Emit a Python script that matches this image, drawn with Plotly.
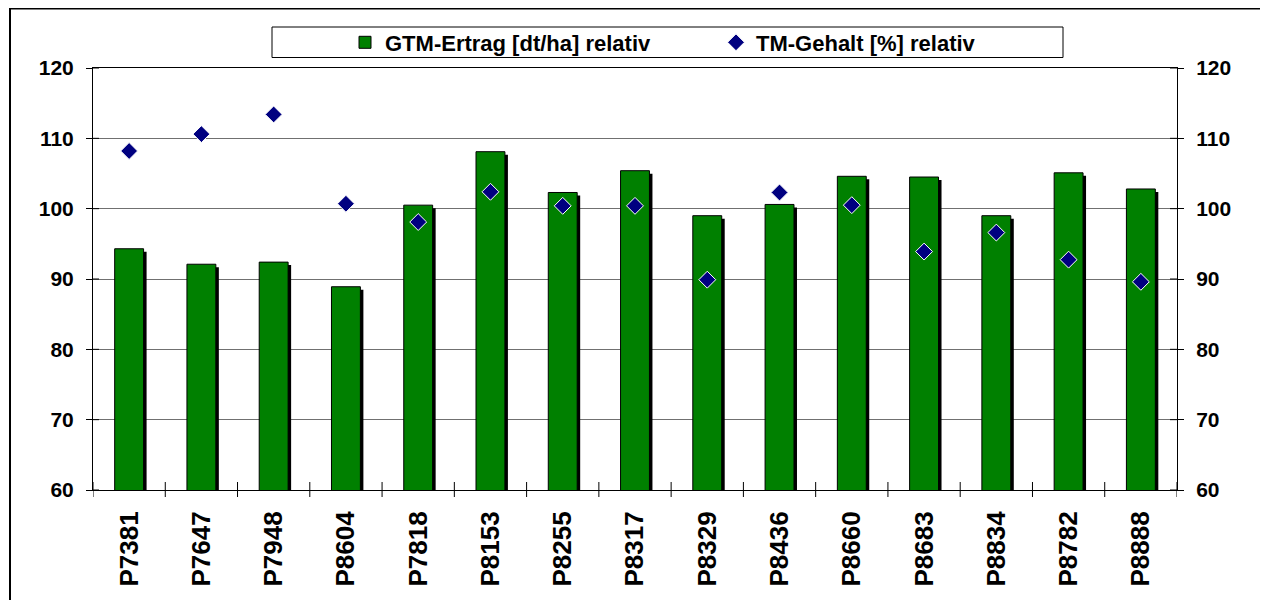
import plotly.graph_objects as go

categories = ["P7381", "P7647", "P7948", "P8604", "P7818", "P8153", "P8255", "P8317",
              "P8329", "P8436", "P8660", "P8683", "P8834", "P8782", "P8888"]
gtm_ertrag = [94.3, 92.1, 92.4, 88.9, 100.5, 108.1, 102.3, 105.4, 99.0, 100.6, 104.6, 104.5, 99.0, 105.1, 102.8]
tm_gehalt = [108.2, 110.6, 113.4, 100.7, 98.1, 102.4, 100.4, 100.4, 89.9, 102.3, 100.5, 93.9, 96.6, 92.75, 89.6]
y_ticks = [60, 70, 80, 90, 100, 110, 120]

# page body has an 8px margin; figure coordinates below are page coords minus 8
W, H = 1260, 592
L, R, T, B = 85, 91, 60, 110
PW, PH = W - L - R, H - T - B
YMIN, YMAX = 60, 120
n = len(categories)
px_per_cat = PW / n
px_per_unit = PH / (YMAX - YMIN)
bar_w = 0.40
sh_dx = 3 / px_per_cat
sh_dy = 3 / px_per_unit

FONT = "Arial, Liberation Sans, sans-serif"

fig = go.Figure()
# shadow of bars
fig.add_trace(go.Bar(
    x=list(range(n)), y=[v - sh_dy for v in gtm_ertrag], width=bar_w, offset=-bar_w / 2 + sh_dx,
    marker=dict(color="black", line=dict(width=0)), showlegend=False, hoverinfo="skip"))
fig.add_trace(go.Bar(
    x=list(range(n)), y=gtm_ertrag, width=bar_w, offset=-bar_w / 2,
    name="GTM-Ertrag [dt/ha] relativ",
    marker=dict(color="#008000", line=dict(color="black", width=1))))
fig.add_trace(go.Scatter(
    x=list(range(n)), y=tm_gehalt, mode="markers", yaxis="y2",
    name="TM-Gehalt [%] relativ",
    marker=dict(symbol="diamond", size=13, color="#000080", line=dict(color="white", width=1))))

shapes = []
def px_x(p):
    return (p - L) / PW
def px_y(p):
    return (H - B - p) / PH

# outer frame (top and left edges visible)
shapes.append(dict(type="line", xref="paper", yref="paper",
                   x0=px_x(1), x1=px_x(W), y0=px_y(0.5), y1=px_y(0.5),
                   line=dict(color="black", width=2), layer="above"))
shapes.append(dict(type="line", xref="paper", yref="paper",
                   x0=px_x(2), x1=px_x(2), y0=px_y(H), y1=px_y(0),
                   line=dict(color="black", width=2), layer="above"))
# legend box
shapes.append(dict(type="rect", xref="paper", yref="paper",
                   x0=px_x(264), x1=px_x(1055), y0=px_y(49.5), y1=px_y(19),
                   line=dict(color="black", width=1), fillcolor="white", layer="below"))
# inner halves of the crossing ticks on x axis (category boundaries)
for i in range(n + 1):
    shapes.append(dict(type="line", xref="x", yref="paper", x0=i - 0.5, x1=i - 0.5,
                       y0=0, y1=8 / PH, line=dict(color="black", width=1)))
# inner halves of crossing ticks on y axes
for v in y_ticks:
    shapes.append(dict(type="line", xref="paper", yref="y", x0=0, x1=6 / PW, y0=v, y1=v,
                       line=dict(color="black", width=1)))
    shapes.append(dict(type="line", xref="paper", yref="y", x0=1 - 7 / PW, x1=1, y0=v, y1=v,
                       line=dict(color="black", width=1)))
# boundary ticks below x axis
for i in range(n + 1):
    shapes.append(dict(type="line", xref="x", yref="paper", x0=i - 0.5, x1=i - 0.5,
                       y0=-7 / PH, y1=0, line=dict(color="black", width=1)))

fig.update_layout(
    width=W, height=H,
    margin=dict(l=L, r=R, t=T, b=B, autoexpand=False),
    paper_bgcolor="white", plot_bgcolor="white",
    barmode="overlay",
    font=dict(family=FONT, color="black"),
    shapes=shapes,
    showlegend=True,
    legend=dict(orientation="h", x=px_x(337), xanchor="left", y=px_y(34.5), yanchor="middle",
                bgcolor="rgba(0,0,0,0)", borderwidth=0, itemwidth=30,
                entrywidth=326, entrywidthmode="pixels",
                font=dict(family=FONT, size=22, color="black", weight="bold"),
                traceorder="normal"),
    xaxis=dict(range=[-0.5, n - 0.5], tickmode="array", tickvals=list(range(n)), ticktext=categories,
               tickangle=-90, ticks="", showgrid=False, zeroline=False,
               showline=True, linecolor="black", linewidth=1, mirror=True,
               tickfont=dict(family=FONT, size=26, weight="bold"), ticklabelstandoff=10),
    yaxis=dict(range=[YMIN, YMAX], tickmode="array", tickvals=y_ticks, ticks="outside", ticklen=6,
               tickcolor="black", showgrid=True, gridcolor="#707070", gridwidth=1, zeroline=False,
               showline=True, linecolor="black", linewidth=1,
               tickfont=dict(family=FONT, size=21, weight="bold"), ticklabelstandoff=8),
    yaxis2=dict(range=[YMIN, YMAX], tickmode="array", tickvals=y_ticks, overlaying="y", side="right",
                ticks="outside", ticklen=6, tickcolor="black", showgrid=False, zeroline=False,
                showline=True, linecolor="black", linewidth=1,
                tickfont=dict(family=FONT, size=21, weight="bold"), ticklabelstandoff=8),
)

fig.write_html("out.html", config={"displayModeBar": False},
               post_script="document.documentElement.style.overflow='hidden';")
